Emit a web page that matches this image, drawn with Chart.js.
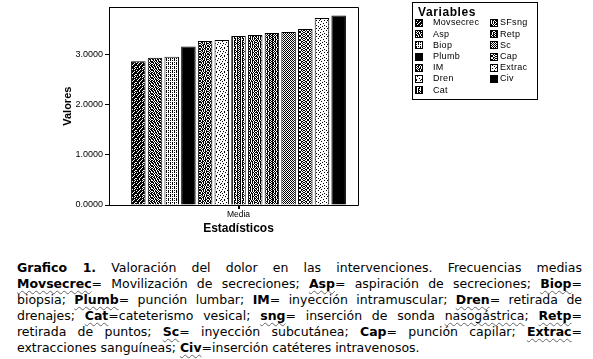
<!DOCTYPE html>
<html><head><meta charset="utf-8">
<script src="https://cdn.jsdelivr.net/npm/chart.js@4"></script>
<style>
html,body{margin:0;padding:0;background:#fff;width:593px;height:359px;overflow:hidden}
#wrap{position:absolute;left:0;top:0;width:593px;height:245px}
#cap{position:absolute;left:17px;top:260px;width:565px;font-family:"DejaVu Sans",Verdana,sans-serif;font-size:12.5px;line-height:16px;color:#000}
#cap div{text-align:justify;text-align-last:justify;white-space:nowrap}
#cap div.last{text-align:left;text-align-last:left}
.u{text-decoration:underline wavy;text-decoration-color:#666;text-decoration-thickness:1px;text-underline-offset:2px;text-decoration-skip-ink:none}
</style>
</head><body>
<div id="wrap"><canvas id="c" width="593" height="245"></canvas></div>
<div id="cap">
<div><b>Grafico 1.</b> Valoración del dolor en las intervenciones. Frecuencias medias</div>
<div><b class="u">Movsecrec</b>= Movilización de secreciones; <b class="u">Asp</b>= aspiración de secreciones; <b class="u">Biop</b>=</div>
<div>biopsia; <b class="u">Plumb</b>= punción lumbar; <b>IM</b>= inyección intramuscular; <b class="u">Dren</b>= retirada de</div>
<div>drenajes; <b class="u">Cat</b>=cateterismo vesical; <b class="u">sng</b>= inserción de sonda <span class="u">nasogástrica</span>; <b class="u">Retp</b>=</div>
<div>retirada de puntos; <b class="u">Sc</b>= inyección subcutánea; <b>Cap</b>= punción capilar; <b class="u">Extrac</b>=</div>
<div class="last">extracciones sanguíneas; <b class="u">Civ</b>=inserción catéteres intravenosos.</div>
</div>
<script>
// ---- data ----
const categories = ['Media'];
const seriesNames = ['Movsecrec','Asp','Biop','Plumb','IM','Dren','Cat','SFsng','Retp','Sc','Cap','Extrac','Civ'];
const seriesValues = [2.86, 2.93, 2.95, 3.15, 3.26, 3.28, 3.36, 3.38, 3.42, 3.44, 3.50, 3.72, 3.77];
const yTickValues = [0, 1, 2, 3];
const yTitle = 'Valores';
const xTitle = 'Estadísticos';
const legendTitle = 'Variables';

// ---- fill styles (bitmap patterns) ----
const bitmaps = [
 ["#.###.##","####.###",".##.###.","###.##.#","#.#####.","####.#.#",".##.####","##.###.#"],
 ["#.#.##.#",".##.#.##","#.##.#.#","##.#.##.",".#.##.#.","#.#.#.##","##.#.#.#",".#.##.#."],
 ["#.#.#.#.","........","#.#.#.#.","..#...#.","#.#.#.#.","........","#.#.#.#.","#...#..."],
 null,
 ["#.#.##.#","#.##.#.#",".##.#.#.","#.#.#.##",".#.##.#.","#.##.#.#","##.#.#.#",".#.#.##."],
 ["#...#...","......#.","..#.....","....#..#",".#......","......#.","...#....","#....#.."],
 ["#.##.##.","#.#..#.#","#.##.##.","#.#.##.#","#.##.##.","#.#..#.#","#.##.##.","#..#.#.#"],
 ["##.#.#.#",".#.##.#.","#.#.#.##",".##.#.#.","#.#.##.#","#.#.#.#.",".##.#.##","#.#.#.#."],
 ["##.#.##.","#.##.#.#","##.#.##.","#.#.##.#","##.#.##.","#.##.#.#","##.#.##.","##.##..#"],
 ["#.#.#.#.",".#.#.#.#","#.#.#.#.",".#.#.#.#","#.#.#.#.",".#.#.#.#","#.#.#.#.",".#.#.#.#"],
 ["#..##..#",".##..##.","#.#..#.#",".#.##.#.","#..##..#",".##..##.","#.#..#.#",".#.##.#."],
 ["#.......","....#...","..#...#.","#.......","....#..#",".#......","......#.","...#...."],
 null
];
function makePattern(bm){
  if(!bm) return '#000';
  const c=document.createElement('canvas');c.width=8;c.height=8;
  const x=c.getContext('2d');x.fillStyle='#fff';x.fillRect(0,0,8,8);x.fillStyle='#000';
  bm.forEach((row,j)=>{for(let i=0;i<8;i++) if(row[i]==='#') x.fillRect(i,j,1,1);});
  return x.createPattern(c,'repeat');
}
const fills = bitmaps.map(makePattern);

const framePlugin = {
  id:'frame',
  afterDraw(chart){
    const {ctx} = chart; const a = chart.chartArea;
    const l=Math.round(a.left)+0.5, t=Math.round(a.top)+0.5, b=Math.round(a.bottom)+0.5, r=Math.round(a.right)-10+0.5;
    ctx.save(); ctx.strokeStyle='#000'; ctx.lineWidth=1;
    ctx.beginPath(); ctx.moveTo(l,t); ctx.lineTo(r,t); ctx.lineTo(r,b); ctx.lineTo(l-0.5,b); ctx.stroke();
    ctx.restore();
  }
};
const legendPlugin = {
  id:'boxLegend',
  afterDraw(chart){
    const {ctx} = chart;
    ctx.save();
    ctx.fillStyle='#fff'; ctx.fillRect(412,2,125,97);
    ctx.strokeStyle='#000'; ctx.lineWidth=1; ctx.strokeRect(412.5,2.5,125,97);
    ctx.fillStyle='#000'; ctx.textBaseline='middle';
    ctx.font='bold 12px "Liberation Sans", Arial, sans-serif';
    try{ctx.letterSpacing='0.6px';}catch(e){}
    ctx.fillText(legendTitle, 418, 12.5);
    ctx.font='9px "Liberation Sans", Arial, sans-serif';
    try{ctx.letterSpacing='0.3px';}catch(e){}
    chart.data.datasets.forEach((ds,i)=>{
      const col = i<7?0:1, row = i<7?i:i-7;
      const cy = 23 + row*11.2;
      const sx = col?490:415;
      ctx.fillStyle = ds.backgroundColor; ctx.fillRect(sx, Math.round(cy-4), 8, 8);
      ctx.strokeStyle='#000'; ctx.strokeRect(sx+0.5, Math.round(cy-4)+0.5, 7, 7);
      ctx.fillStyle='#000'; ctx.fillText(ds.label, col?500:433, cy);
    });
    ctx.restore();
  }
};

new Chart(document.getElementById('c'), {
  type:'bar',
  data:{
    labels: categories,
    datasets: seriesNames.map((n,i)=>({label:n, data:[seriesValues[i]], backgroundColor:fills[i],
      borderColor:'#000', borderWidth:1, categoryPercentage:0.838, barPercentage:0.87}))
  },
  options:{
    responsive:false, animation:false,
    layout:{padding:{left:0,top:5,right:225,bottom:0}},
    plugins:{legend:{display:false}, tooltip:{enabled:false}},
    scales:{
      x:{
        offset:true,
        grid:{display:true, drawOnChartArea:false, drawTicks:true, tickLength:4, offset:false, color:'#000', lineWidth:2},
        border:{display:false},
        ticks:{font:{family:'Liberation Sans', size:8.5}, color:'#000', padding:1},
        title:{display:true, text:xTitle, color:'#000', font:{family:'Liberation Sans', size:12, weight:'bold'}, padding:{top:0,bottom:9}},
        afterFit:s=>{s.height=40;}
      },
      y:{
        min:0, max:3.93,
        grid:{drawOnChartArea:false, drawTicks:true, tickLength:4, color:'#000'},
        border:{display:true, color:'#000', width:1},
        ticks:{font:{family:'Liberation Sans', size:9}, color:'#000', padding:2, callback:v=>Number(v).toFixed(4)},
        afterBuildTicks:s=>{s.ticks = yTickValues.map(v=>({value:v}));},
        title:{display:true, text:yTitle, color:'#000', font:{family:'Liberation Sans', size:11, weight:'bold'}, padding:{top:61,bottom:0}},
        afterFit:s=>{s.width=109;}
      }
    }
  },
  plugins:[framePlugin, legendPlugin]
});
</script>
</body></html>
